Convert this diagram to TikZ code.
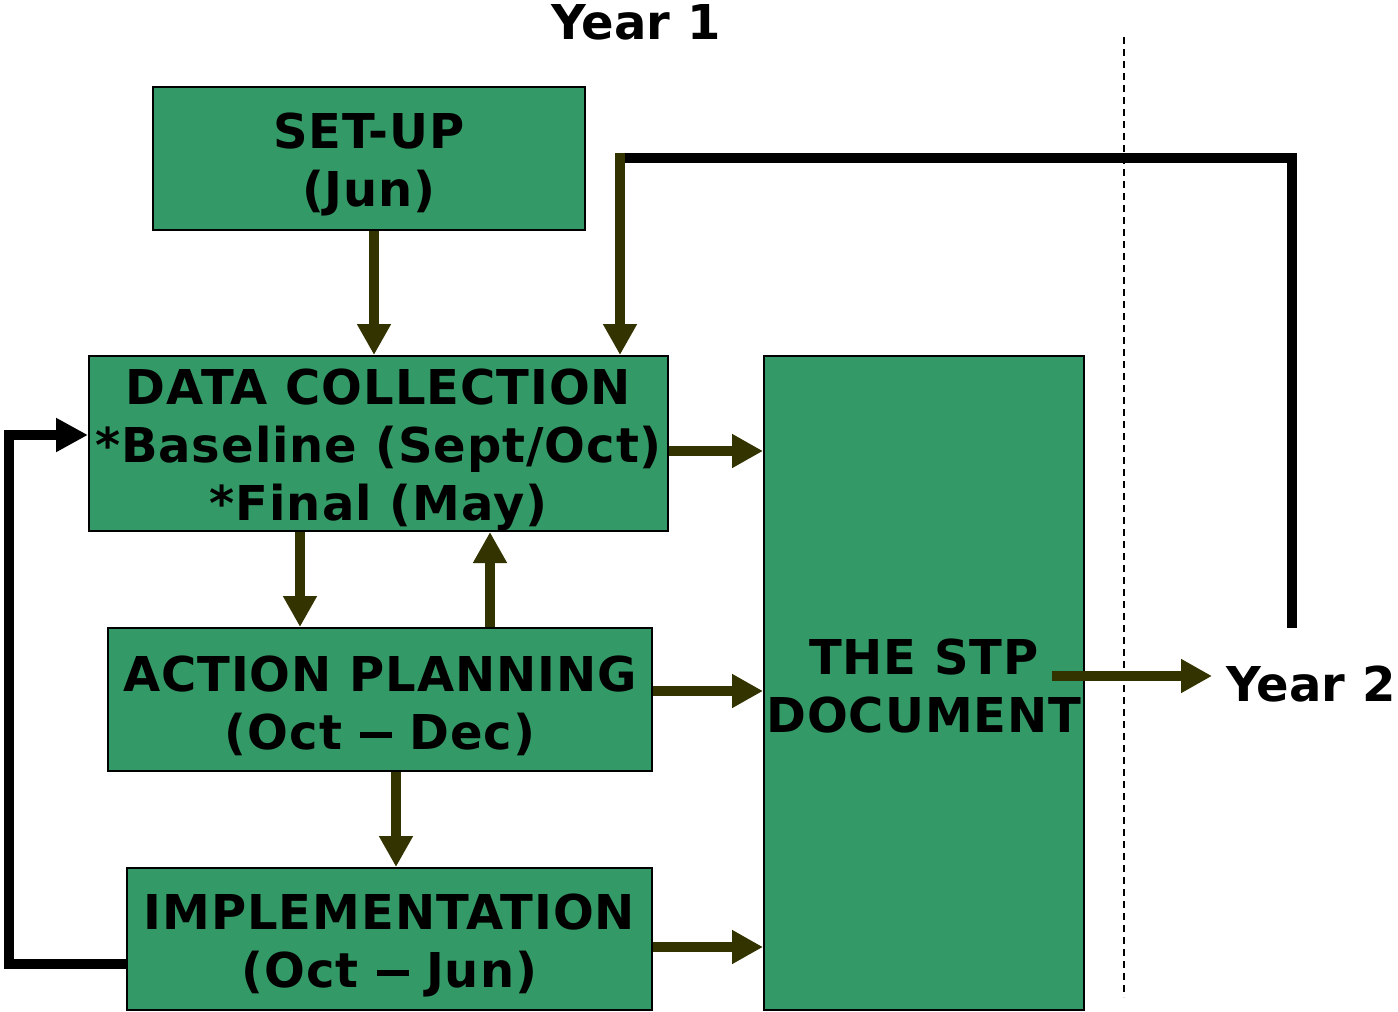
\documentclass[tikz,border=0pt]{standalone}
\usepackage{fontspec}
\setmainfont{DejaVu Sans}
\newfontfamily\boxfont[LetterSpace=2]{DejaVu Sans}
\usetikzlibrary{arrows.meta}
\definecolor{boxgreen}{RGB}{51,153,102}
\definecolor{olive}{RGB}{51,51,0}
\newcommand\longdash{\rule[5.5pt]{16pt}{3pt}}
\begin{document}
\begin{tikzpicture}[x=0.5pt,y=-0.5pt,
  box/.style={draw=black,line width=1pt,fill=boxgreen,inner sep=0pt},
  boxtext/.style={inner sep=0pt,align=center,
    font=\boxfont\bfseries\fontsize{24}{29}\selectfont},
  arr/.style={draw=olive,line width=5pt,-{Triangle[length=15.5pt,width=16pt]}},
  blk/.style={draw=black,line width=5pt},
  blkarr/.style={blk,-{Triangle[length=16pt,width=16pt]}},
  lbl/.style={inner sep=0pt,font=\bfseries\fontsize{24}{29}\selectfont}]
\useasboundingbox (0,0) rectangle (1398,1012);
% boxes
\node[box,minimum width=216pt,minimum height=71.5pt] (setup) at (369,158.5) {};
\node[boxtext] (setupT) at ([yshift=-3pt]setup.center) {SET-UP\\(Jun)};
\node[box,minimum width=289.5pt,minimum height=87.5pt] (dc) at (378.5,443.5) {};
\node[boxtext] (dcT) at ([yshift=-3pt]dc.center) {DATA COLLECTION\\*Baseline (Sept/Oct)\\*Final (May)};
\node[box,minimum width=272pt,minimum height=71.5pt] (ap) at (380,699.5) {};
\node[boxtext] (apT) at ([yshift=-3pt]ap.center) {ACTION PLANNING\\(Oct \longdash{} Dec)};
\node[box,minimum width=262.5pt,minimum height=71pt] (imp) at (389.5,939) {};
\node[boxtext] (impT) at ([yshift=-3pt]imp.center) {IMPLEMENTATION\\(Oct \longdash{} Jun)};
\node[box,minimum width=160pt,minimum height=327pt] (stp) at (924,683) {};
\node[boxtext] (stpT) at ([yshift=-1.5pt]stp.center) {THE STP\\DOCUMENT};
% labels
\node[lbl] (y1) at (636,22) {Year 1};
\node[lbl,anchor=west] (y2) at (1226,684) {Year 2};
% dashed divider
\coordinate (dtop) at (1124,37);
\coordinate (dbot) at (1124,997);
\draw[line width=0.75pt,dash pattern=on 3.5pt off 2.5pt] (dtop) -- (dbot);
% loop to year 2
\coordinate (ltop) at (620,158);
\coordinate (lcorner) at (1292,158);
\coordinate (lend) at (1292,628);
\draw[blk] (620,158) -- (lcorner) -- (lend);
\draw[arr] (620,153) -- (dc.north -| ltop);
% arrows
\draw[arr] (setup.south -| 374,0) -- (dc.north -| 374,0);
\draw[arr] (dc.south -| 300,0) -- (ap.north -| 300,0);
\draw[arr] (ap.north -| 490,0) -- (dc.south -| 490,0);
\draw[arr] (ap.south -| 396,0) -- (imp.north -| 396,0);
\draw[arr] (dc.east |- 0,451) -- (stp.west |- 0,451);
\draw[arr] (ap.east |- 0,691) -- (stp.west |- 0,691);
\draw[arr] (imp.east |- 0,947) -- (stp.west |- 0,947);
\coordinate (y2start) at (1052,676);
\coordinate (y2end) at (1212,676);
\draw[arr] (y2start) -- (y2end);
% feedback
\draw[blkarr] (imp.west |- 0,964) -- (9,964) -- (9,435) -- (dc.west |- 0,435);
\end{tikzpicture}
\end{document}
